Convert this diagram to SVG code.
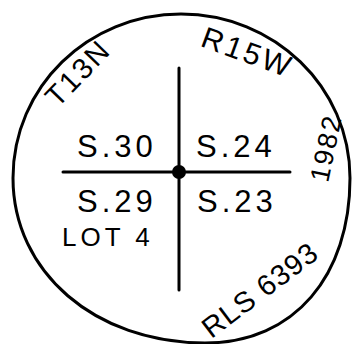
<svg xmlns="http://www.w3.org/2000/svg" width="352" height="344" viewBox="0 0 352 344">
<style>
.ln{stroke:#000;stroke-width:3;fill:none;stroke-linecap:round}
.t{font-family:"Liberation Sans","DejaVu Sans",sans-serif;fill:#000}
.num{font-size:31px;letter-spacing:4px}
</style>
<rect width="352" height="344" fill="#fff"/>
<g id="monument">
<path class="ln" stroke-width="2.6" d="M181,14 C274,14 350,87 350,178 C350,275 295,343 205,343 C95,343 13,272 13,178 C13,87 88,14 181,14 Z"/>
</g>
<g id="connectors">
<line x1="179" y1="68" x2="179" y2="290" class="ln"/>
<line x1="63" y1="172" x2="290" y2="172" class="ln"/>
<circle cx="179" cy="172" r="7" fill="#000"/>
</g>
<g id="sec30"><text class="t num" x="77" y="157">S.30</text></g>
<g id="sec24"><text class="t num" x="196" y="157">S.24</text></g>
<g id="sec29"><text class="t num" x="77" y="212">S.29</text></g>
<g id="sec23"><text class="t num" x="197" y="212">S.23</text></g>
<g id="lot4"><text class="t" x="62" y="246" font-size="26" letter-spacing="4">LOT 4</text></g>
<g id="township"><text class="t" font-size="29" letter-spacing="2" text-anchor="middle" transform="translate(85,80) rotate(-46)">T13N</text></g>
<g id="range"><text class="t" font-size="30" letter-spacing="3" text-anchor="middle" transform="translate(244,62) rotate(20)">R15W</text></g>
<g id="year"><text class="t" font-size="27" letter-spacing="2" text-anchor="middle" transform="translate(335,150) rotate(-78)">1982</text></g>
<g id="rls"><text class="t" font-size="29" letter-spacing="1" text-anchor="middle" transform="translate(266,298) rotate(-37)">RLS 6393</text></g>
</svg>
